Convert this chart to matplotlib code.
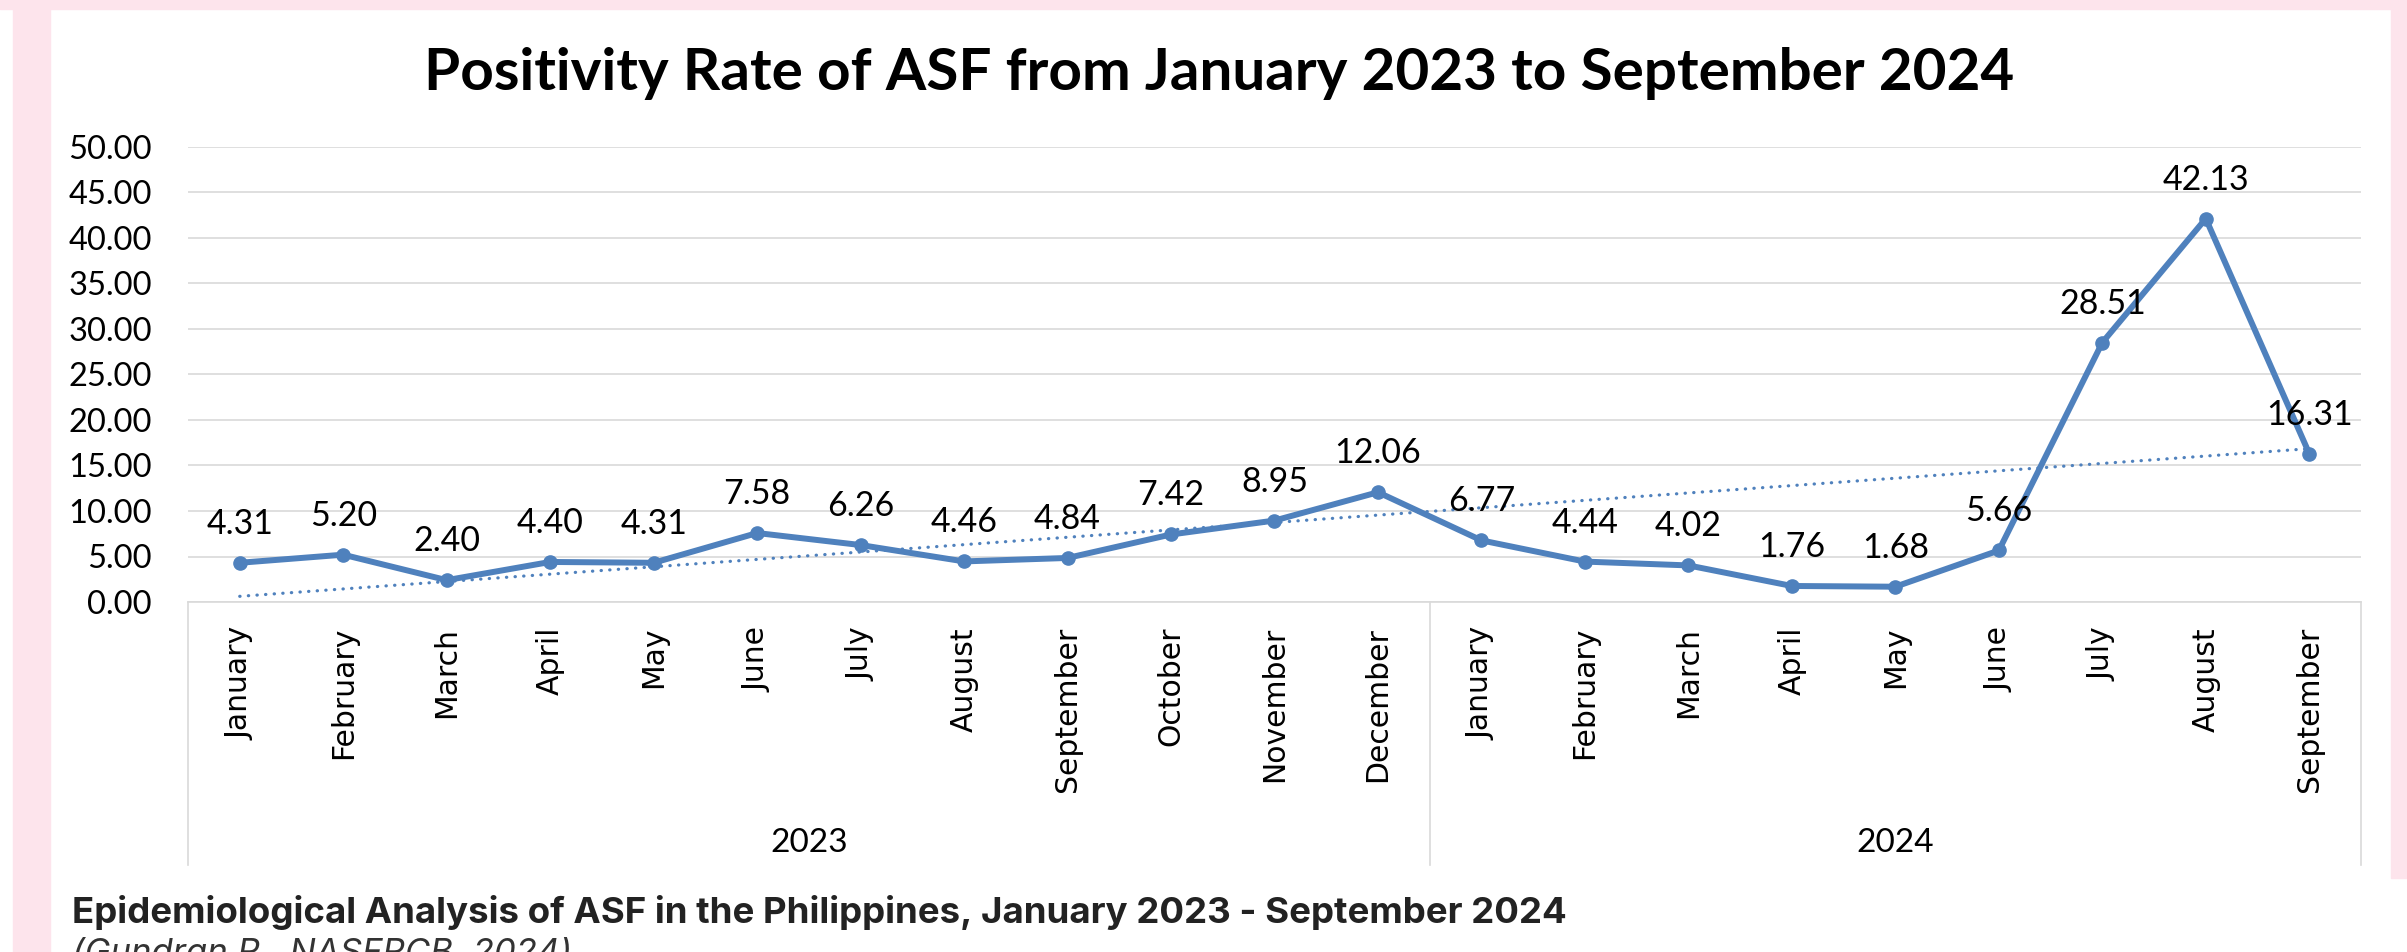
import numpy as np
import matplotlib
matplotlib.use("Agg")
import matplotlib.pyplot as plt
from matplotlib.patches import Rectangle
import matplotlib.transforms as mtransforms

# ---------------- data ----------------
months = ["January", "February", "March", "April", "May", "June", "July",
          "August", "September", "October", "November", "December",
          "January", "February", "March", "April", "May", "June", "July",
          "August", "September"]
years = ["2023", "2024"]
year_counts = [12, 9]
rates = [4.31, 5.20, 2.40, 4.40, 4.31, 7.58, 6.26, 4.46, 4.84, 7.42, 8.95, 12.06,
         6.77, 4.44, 4.02, 1.76, 1.68, 5.66, 28.51, 42.13, 16.31]
yticks = [0, 5, 10, 15, 20, 25, 30, 35, 40, 45, 50]

title = "Positivity Rate of ASF from January 2023 to September 2024"
caption = "Epidemiological Analysis of ASF in the Philippines, January 2023 - September 2024"
source = "(Gundran R., NASFRCB, 2024)"

# ---------------- figure ----------------
W, H = 2407, 952
DPI = 100
fig = plt.figure(figsize=(W / DPI, H / DPI), dpi=DPI)
fig.patch.set_facecolor("white")

PINK = "#fde4ec"
BLUE = "#4f81bd"
GRID = "#d9d9d9"

def fx(px):
    return px / W

def fy(py):
    return 1 - py / H

# pink frame pieces
fig.patches.append(Rectangle((0, fy(9)), 1, 9 / H, transform=fig.transFigure,
                             color=PINK, zorder=0))
fig.patches.append(Rectangle((fx(13), 0), 37 / W, fy(9), transform=fig.transFigure,
                             color=PINK, zorder=0))
fig.patches.append(Rectangle((fx(2391), fy(878)), 16 / W, (878 - 9) / H,
                             transform=fig.transFigure, color=PINK, zorder=0))

ax_left, ax_right, ax_top, ax_bot = 188, 2361, 147, 602
ax = fig.add_axes([fx(ax_left), fy(ax_bot), (ax_right - ax_left) / W,
                   (ax_bot - ax_top) / H])
ax.set_facecolor("none")

x = np.arange(len(rates))
ax.set_xlim(-0.5, len(rates) - 0.5)
ax.set_ylim(0, 50)

# grid
ax.set_yticks(yticks)
ax.set_yticklabels([f"{v:.2f}" for v in yticks], family="Lato", fontsize=23.5)
ax.yaxis.grid(True, color=GRID, linewidth=1.2)
ax.set_axisbelow(True)
for s in ["top", "right", "left"]:
    ax.spines[s].set_visible(False)
ax.spines["bottom"].set_color(GRID)
ax.spines["bottom"].set_linewidth(1.2)
ax.tick_params(axis="y", length=0, pad=26)
ax.tick_params(axis="x", length=0, pad=18)

# trendline (least squares)
coef = np.polyfit(x, rates, 1)
ax.plot(x, np.polyval(coef, x), color=BLUE, linewidth=2.3,
        linestyle=(0, (0.1, 2.6)), dash_capstyle="round", zorder=2)

# series
ax.plot(x, rates, color=BLUE, linewidth=4.3, marker="o", markersize=9.5,
        zorder=3, solid_joinstyle="round")

for xi, v in zip(x, rates):
    ax.annotate(f"{v:.2f}", (xi, v), xytext=(0, 39), textcoords="offset pixels",
                ha="center", va="center", family="Lato", fontsize=24.5, zorder=4)

# month labels
ax.set_xticks(x)
ax.set_xticklabels(months, rotation=90, ha="center", va="top",
                   family="DejaVu Sans", fontsize=21.5)

# multi-level category box
trans = mtransforms.blended_transform_factory(ax.transData, ax.transAxes)
box_bottom = -(865 - ax_bot) / (ax_bot - ax_top)
bounds = [-0.5]
for c in year_counts:
    bounds.append(bounds[-1] + c)
for b in bounds:
    ax.plot([b, b], [0, box_bottom], transform=trans, color=GRID,
            linewidth=1.2, clip_on=False)
year_y = -(843 - ax_bot) / (ax_bot - ax_top)
for i, yr in enumerate(years):
    ax.text((bounds[i] + bounds[i + 1]) / 2, year_y, yr, transform=trans,
            ha="center", va="center", family="Lato", fontsize=24)

# title
fig.text(fx(1219), fy(90), title, ha="center", va="baseline",
         family="Lato", fontweight="bold", fontsize=42)

# caption
fig.text(fx(72), fy(923), caption, ha="left", va="baseline",
         family="Inter", fontweight="bold", fontsize=26.4, color="#222222")
fig.text(fx(72), fy(938), source, ha="left", va="top",
         family="Inter", fontstyle="italic", fontsize=25, color="#333333")

fig.savefig("out.png", dpi=DPI, facecolor=fig.get_facecolor())
